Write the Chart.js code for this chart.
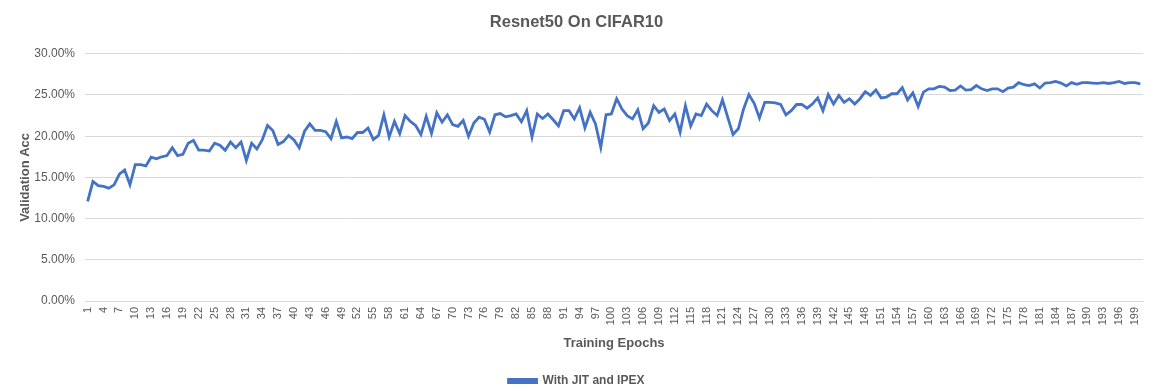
<!DOCTYPE html>
<html>
<head>
<meta charset="utf-8">
<script src="https://cdn.jsdelivr.net/npm/chart.js@4.4.1/dist/chart.umd.min.js"></script>
<style>
  html, body { margin: 0; padding: 0; background: #fff; }
  #wrap { width: 1162px; height: 391px; }
</style>
</head>
<body>
<div id="wrap"><canvas id="acc" width="1162" height="391"></canvas></div>
<script>
// Epochs 1..200
const epochs = Array.from({ length: 200 }, (_, i) => String(i + 1));

// Validation accuracy (%)
const accEpochs1to50 = [
    12.1, 14.5, 14.0, 13.9, 13.7, 14.1, 15.4, 15.9, 14.1, 16.55,
    16.55, 16.4, 17.45, 17.25, 17.5, 17.65, 18.6, 17.65, 17.8, 19.15,
    19.5, 18.3, 18.3, 18.2, 19.15, 18.9, 18.3, 19.3, 18.6, 19.3,
    17.05, 19.15, 18.45, 19.55, 21.3, 20.7, 19.0, 19.35, 20.1, 19.55,
    18.6, 20.6, 21.5, 20.7, 20.7, 20.55, 19.7, 21.8, 19.8, 19.9
];
const accEpochs51to100 = [
    19.7, 20.45, 20.45, 21.0, 19.6, 20.1, 22.6, 19.9, 21.8, 20.3,
    22.5, 21.8, 21.3, 20.2, 22.4, 20.35, 22.85, 21.7, 22.6, 21.4,
    21.2, 21.9, 20.0, 21.6, 22.3, 22.05, 20.5, 22.6, 22.75, 22.35,
    22.5, 22.7, 21.75, 23.1, 19.9, 22.7, 22.15, 22.7, 22.0, 21.25,
    23.1, 23.1, 22.1, 23.45, 21.0, 22.9, 21.5, 18.65, 22.6, 22.7
];
const accEpochs101to150 = [
    24.55, 23.3, 22.5, 22.1, 23.2, 20.9, 21.6, 23.7, 22.9, 23.3,
    21.9, 22.7, 20.5, 23.7, 21.25, 22.7, 22.5, 23.9, 23.1, 22.5,
    24.4, 22.3, 20.2, 20.9, 23.3, 25.05, 24.0, 22.2, 24.1, 24.1,
    24.05, 23.85, 22.6, 23.1, 23.85, 23.85, 23.4, 23.9, 24.65, 23.1,
    25.05, 23.9, 24.95, 24.1, 24.55, 23.9, 24.55, 25.4, 24.95, 25.6
];
const accEpochs151to200 = [
    24.65, 24.75, 25.15, 25.15, 25.9, 24.4, 25.25, 23.6, 25.35, 25.75,
    25.75, 26.05, 25.95, 25.55, 25.6, 26.1, 25.6, 25.65, 26.15, 25.75,
    25.55, 25.75, 25.75, 25.4, 25.85, 25.95, 26.5, 26.25, 26.15, 26.35,
    25.85, 26.45, 26.5, 26.65, 26.45, 26.1, 26.5, 26.3, 26.5, 26.5,
    26.45, 26.4, 26.5, 26.4, 26.5, 26.65, 26.4, 26.5, 26.5, 26.35
];
const accuracy = [].concat(accEpochs1to50, accEpochs51to100, accEpochs101to150, accEpochs151to200);

const seriesName = 'With JIT and IPEX';
const textGrey = '#595959';
const gridGrey = '#d9d9d9';

const ctx = document.getElementById('acc').getContext('2d');
new Chart(ctx, {
    type: 'line',
    data: {
        labels: epochs,
        datasets: [{
            label: seriesName,
            data: accuracy,
            borderColor: '#4472C4',
            backgroundColor: '#4472C4',
            borderWidth: 2.8,
            pointRadius: 0,
            tension: 0
        }]
    },
    options: {
        responsive: false,
        animation: false,
        layout: {
            padding: { top: 8, left: 10, right: 19, bottom: -6 }
        },
        plugins: {
            title: {
                display: true,
                text: 'Resnet50 On CIFAR10',
                color: textGrey,
                font: { family: 'Liberation Sans', size: 16.5, weight: 'bold' },
                padding: { top: 5, bottom: 21 }
            },
            legend: {
                position: 'bottom',
                labels: {
                    boxWidth: 28,
                    boxHeight: 3,
                    padding: 4,
                    color: textGrey,
                    font: { family: 'Liberation Sans', size: 12, weight: 'bold' }
                }
            },
            tooltip: { enabled: false }
        },
        scales: {
            x: {
                offset: true,
                grid: { display: false, drawTicks: false },
                border: { display: true, color: gridGrey },
                ticks: {
                    autoSkip: false,
                    minRotation: 90,
                    maxRotation: 90,
                    padding: 6,
                    color: textGrey,
                    font: { family: 'Liberation Sans', size: 11 },
                    callback: function (value, index) {
                        return index % 3 === 0 ? this.getLabelForValue(value) : '';
                    }
                },
                title: {
                    display: true,
                    text: 'Training Epochs',
                    color: textGrey,
                    font: { family: 'Liberation Sans', size: 13, weight: 'bold' },
                    padding: { top: 0, bottom: 20 }
                },
                afterFit: function (scale) { scale.height = 70; }
            },
            y: {
                min: 0,
                max: 30,
                grid: { color: gridGrey, drawTicks: false },
                border: { display: false },
                ticks: {
                    stepSize: 5,
                    padding: 10,
                    color: textGrey,
                    font: { family: 'Liberation Sans', size: 12 },
                    callback: v => v.toFixed(2) + '%'
                },
                title: {
                    display: true,
                    text: 'Validation Acc',
                    color: textGrey,
                    font: { family: 'Liberation Sans', size: 13, weight: 'bold' },
                    padding: { top: 8, bottom: 0 }
                },
                afterFit: function (scale) { scale.width = 75; }
            }
        }
    }
});
</script>
</body>
</html>
